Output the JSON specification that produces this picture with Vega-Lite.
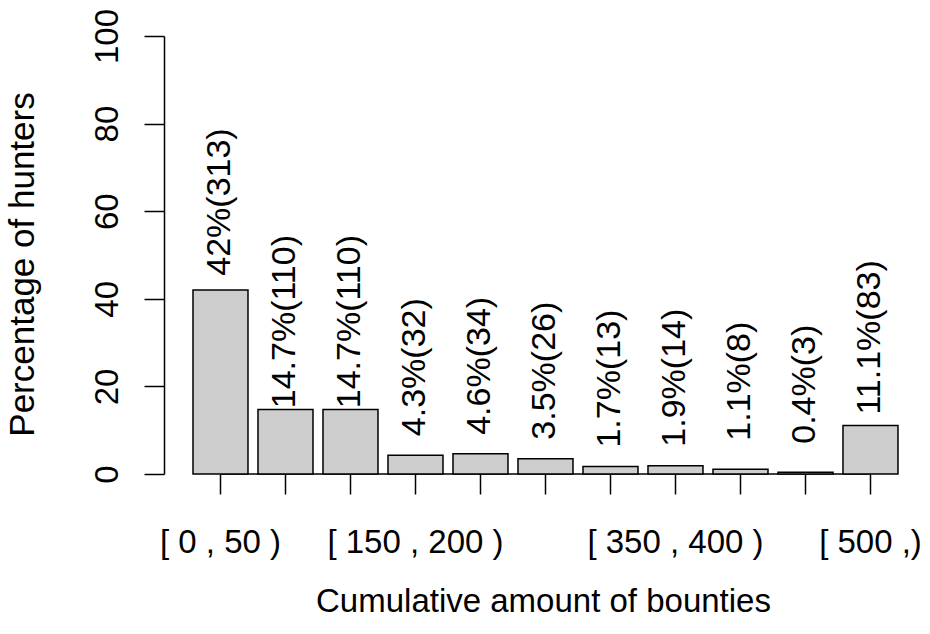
{
  "$schema": "https://vega.github.io/schema/vega-lite/v6.json",
  "autosize": {"type": "none"},
  "padding": {"left": 164, "top": 36, "right": 8, "bottom": 160},
  "width": 758,
  "height": 438,
  "background": "white",
  "config": {
    "font": "Liberation Sans",
    "view": {"stroke": null}
  },
  "datasets": {
    "bars": [
      {"bin": "[ 0 , 50 )", "pct": 42, "n": 313, "label": "42%(313)"},
      {"bin": "[ 50 , 100 )", "pct": 14.7, "n": 110, "label": "14.7%(110)"},
      {"bin": "[ 100 , 150 )", "pct": 14.7, "n": 110, "label": "14.7%(110)"},
      {"bin": "[ 150 , 200 )", "pct": 4.3, "n": 32, "label": "4.3%(32)"},
      {"bin": "[ 200 , 250 )", "pct": 4.6, "n": 34, "label": "4.6%(34)"},
      {"bin": "[ 250 , 300 )", "pct": 3.5, "n": 26, "label": "3.5%(26)"},
      {"bin": "[ 300 , 350 )", "pct": 1.7, "n": 13, "label": "1.7%(13)"},
      {"bin": "[ 350 , 400 )", "pct": 1.9, "n": 14, "label": "1.9%(14)"},
      {"bin": "[ 400 , 450 )", "pct": 1.1, "n": 8, "label": "1.1%(8)"},
      {"bin": "[ 450 , 500 )", "pct": 0.4, "n": 3, "label": "0.4%(3)"},
      {"bin": "[ 500 ,)", "pct": 11.1, "n": 83, "label": "11.1%(83)"}
    ],
    "axisline": [
      {"from": "[ 0 , 50 )", "to": "[ 500 ,)"}
    ]
  },
  "layer": [
    {
      "data": {"name": "axisline"},
      "mark": {"type": "rule", "color": "black", "strokeWidth": 1.5},
      "encoding": {
        "x": {"field": "from", "type": "nominal", "bandPosition": 0.5},
        "x2": {"field": "to", "bandPosition": 0.5},
        "y": {"datum": 0, "type": "quantitative"}
      }
    },
    {
      "data": {"name": "bars"},
      "mark": {"type": "bar", "fill": "#CDCDCD", "stroke": "black", "strokeWidth": 1.5},
      "encoding": {
        "x": {
          "field": "bin",
          "type": "nominal",
          "sort": null,
          "scale": {
            "domain": ["[ 0 , 50 )", "[ 50 , 100 )", "[ 100 , 150 )", "[ 150 , 200 )", "[ 200 , 250 )", "[ 250 , 300 )", "[ 300 , 350 )", "[ 350 , 400 )", "[ 400 , 450 )", "[ 450 , 500 )", "[ 500 ,)"],
            "paddingInner": 0.1538,
            "paddingOuter": 0.4077,
            "align": 0.547
          },
          "axis": {
            "title": "Cumulative amount of bounties",
            "domain": false,
            "ticks": true,
            "tickColor": "black",
            "tickWidth": 1.5,
            "tickSize": 20,
            "labelExpr": "indexof(['[ 0 , 50 )','[ 150 , 200 )','[ 350 , 400 )','[ 500 ,)'], datum.value) >= 0 ? datum.value : ''",
            "labelAngle": 0,
            "labelFontSize": 33,
            "labelColor": "black",
            "labelBaseline": "alphabetic",
            "labelAlign": "center",
            "labelPadding": 58,
            "labelOverlap": false,
            "labelBound": false,
            "grid": false,
            "titleFontSize": 33,
            "titleFontWeight": "normal",
            "titleColor": "black",
            "titleX": 379,
            "titleY": 137,
            "titleAlign": "center",
            "titleBaseline": "alphabetic"
          }
        },
        "y": {
          "field": "pct",
          "type": "quantitative",
          "scale": {"domain": [0, 100], "nice": false, "zero": true},
          "axis": {
            "title": "Percentage of hunters",
            "values": [0, 20, 40, 60, 80, 100],
            "grid": false,
            "domain": true,
            "domainColor": "black",
            "domainWidth": 1.5,
            "tickColor": "black",
            "tickWidth": 1.5,
            "tickSize": 20,
            "labelFontSize": 33,
            "labelColor": "black",
            "labelAngle": 270,
            "labelAlign": "center",
            "labelBaseline": "alphabetic",
            "labelPadding": 27,
            "labelOverlap": false,
            "labelFlush": false,
            "labelBound": false,
            "titleFontSize": 35,
            "titleFontWeight": "normal",
            "titleColor": "black",
            "titleAngle": 270,
            "titleX": -131,
            "titleY": 228,
            "titleAlign": "center",
            "titleBaseline": "alphabetic"
          }
        }
      }
    },
    {
      "data": {"name": "bars"},
      "mark": {"type": "text", "angle": 270, "align": "center", "baseline": "middle", "dx": 88, "fontSize": 34, "color": "black"},
      "encoding": {
        "x": {"field": "bin", "type": "nominal", "sort": null},
        "y": {"field": "pct", "type": "quantitative"},
        "text": {"field": "label"}
      }
    }
  ]
}
